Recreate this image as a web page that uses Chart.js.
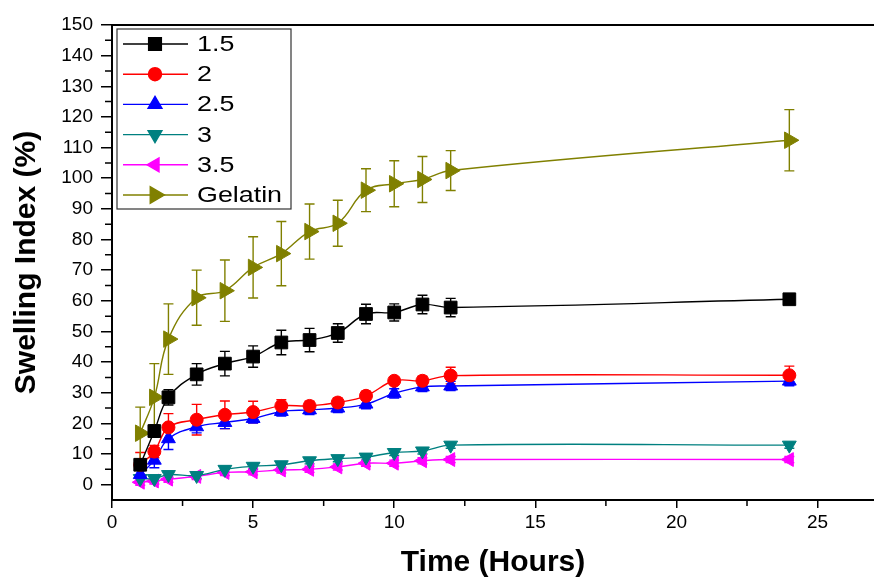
<!DOCTYPE html>
<html>
<head>
<meta charset="utf-8">
<script src="https://cdn.jsdelivr.net/npm/chart.js@4.4.0/dist/chart.umd.min.js"></script>
<style>
html, body { margin: 0; padding: 0; background: #fff; }
</style>
</head>
<body>
<canvas id="myChart" width="874" height="578"></canvas>
<script>
// time points (hours)
var hours = [1, 1.5, 2, 3, 4, 5, 6, 7, 8, 9, 10, 11, 12, 24];
var seriesNames = ['1.5', '2', '2.5', '3', '3.5', 'Gelatin'];

// swelling index (%) and error for each series
var s15 = [6.5, 17.5, 28.5, 36, 39.5, 41.8, 46.4, 47.2, 49.5, 55.7, 56.2, 58.8, 57.8, 60.5];
var e15 = [1.5, 2, 2.5, 3.5, 4, 3.5, 4, 3.8, 3, 3.2, 2.8, 3, 3, 1];
var s2 = [6.5, 10.8, 18.7, 21.2, 22.8, 23.7, 25.7, 25.7, 26.8, 29, 33.9, 33.9, 35.6, 35.7];
var e2 = [4, 2, 4.5, 5, 4.5, 3.5, 2, 1.5, 1.5, 1.5, 1, 1.5, 2.7, 3];
var s25 = [3.3, 8, 15, 18.9, 20.3, 21.6, 23.9, 24.4, 25, 26.3, 29.8, 31.9, 32.2, 33.8];
var e25 = [2, 2.5, 3.5, 2, 2, 1.5, 1.5, 1.5, 1.5, 1.5, 1.5, 1.5, 1.5, 1.5];
var s3 = [2, 2, 3.3, 3, 5, 6, 6.5, 7.8, 8.5, 9, 10.5, 11, 12.9, 12.9];
var e3 = [1, 1, 1, 1, 1, 1, 1, 1, 1, 1, 1, 1, 1, 1];
var s35 = [0.8, 1.2, 1.8, 2.7, 4, 4.2, 4.8, 5, 5.8, 7, 7, 7.8, 8.2, 8.2];
var e35 = [1, 1, 1, 1, 1, 1, 1, 1, 1, 1, 1, 1, 1, 1];
var sGel = [16.8, 28.5, 47.5, 61, 63.3, 70.9, 75.4, 82.6, 85.3, 96.1, 98.2, 99.6, 102.5, 112.4];
var eGel = [8.5, 11, 11.5, 9, 10, 10, 10.5, 9, 7.5, 7, 7.5, 7.5, 6.5, 10];

var allValues = [s15, s2, s25, s3, s35, sGel];
var allErrors = [e15, e2, e25, e3, e35, eGel];

// styles
var colors = ['#000000', '#ff0000', '#0000ff', '#008080', '#ff00ff', '#808000'];
var shapes = ['rect', 'circle', 'triangle', 'triangle', 'triangle', 'triangle'];
var turns = [0, 0, 0, 180, 270, 90];
var sizes = [9, 6.5, 8, 8, 8, 9.5];

var FONT = '"Liberation Sans", Arial, sans-serif';

var datasets = [];
for (var i = 0; i < seriesNames.length; i++) {
    var pts = [];
    for (var j = 0; j < hours.length; j++) {
        pts.push({ x: hours[j], y: allValues[i][j], err: allErrors[i][j] });
    }
    datasets.push({
        label: seriesNames[i],
        data: pts,
        showLine: true,
        borderColor: colors[i],
        backgroundColor: colors[i],
        borderWidth: 1.4,
        tension: 0.4,
        pointStyle: shapes[i],
        rotation: turns[i],
        pointRadius: sizes[i],
        pointHoverRadius: sizes[i],
        pointBorderWidth: 1,
        clip: false
    });
}

// error bars, minor ticks, frame, legend
var extras = {
    id: 'extras',
    beforeDatasetsDraw: function (chart) {
        var ctx = chart.ctx;
        var xs = chart.scales.x, ys = chart.scales.y;
        ctx.save();
        ctx.lineWidth = 1.4;
        chart.data.datasets.forEach(function (ds) {
            ctx.strokeStyle = ds.borderColor;
            ds.data.forEach(function (p) {
                var px = xs.getPixelForValue(p.x);
                var top = ys.getPixelForValue(p.y + p.err);
                var bot = ys.getPixelForValue(p.y - p.err);
                ctx.beginPath();
                ctx.moveTo(px, top); ctx.lineTo(px, bot);
                ctx.moveTo(px - 5, top); ctx.lineTo(px + 5, top);
                ctx.moveTo(px - 5, bot); ctx.lineTo(px + 5, bot);
                ctx.stroke();
            });
        });
        ctx.restore();
    },
    afterDraw: function (chart) {
        var ctx = chart.ctx;
        var a = chart.chartArea;
        var xs = chart.scales.x, ys = chart.scales.y;
        ctx.save();
        ctx.strokeStyle = '#000';
        ctx.lineWidth = 2;
        ctx.beginPath();
        ctx.moveTo(a.left, a.top); ctx.lineTo(a.right, a.top);
        ctx.stroke();
        // minor ticks
        ctx.lineWidth = 1.5;
        ctx.beginPath();
        for (var v = 5; v < 150; v += 10) {
            var py = ys.getPixelForValue(v);
            ctx.moveTo(a.left - 7, py); ctx.lineTo(a.left, py);
        }
        for (var h = 2.5; h < 27; h += 5) {
            var px = xs.getPixelForValue(h);
            ctx.moveTo(px, a.bottom); ctx.lineTo(px, a.bottom + 6);
        }
        ctx.stroke();

        // legend
        var bx = a.left + 5, by = a.top + 4;
        ctx.lineWidth = 1.2;
        ctx.strokeStyle = '#333';
        ctx.fillStyle = '#fff';
        ctx.fillRect(bx, by, 174, 180);
        ctx.strokeRect(bx, by, 174, 180);
        ctx.textBaseline = 'middle';
        chart.data.datasets.forEach(function (ds, k) {
            var ry = by + 15 + k * 30.2;
            ctx.strokeStyle = ds.borderColor;
            ctx.fillStyle = ds.backgroundColor;
            ctx.lineWidth = 1.4;
            ctx.beginPath();
            ctx.moveTo(bx + 6, ry); ctx.lineTo(bx + 71, ry);
            ctx.stroke();
            Chart.helpers.drawPoint(ctx, {
                pointStyle: ds.pointStyle,
                rotation: ds.rotation,
                radius: ds.pointRadius,
                borderWidth: 1
            }, bx + 38, ry);
            ctx.save();
            ctx.translate(bx + 80, ry + 1);
            ctx.scale(1.22, 1);
            ctx.font = '22px ' + FONT;
            ctx.fillStyle = '#000';
            ctx.fillText(ds.label, 0, 0);
            ctx.restore();
        });
        ctx.restore();
    }
};

var ctx = document.getElementById('myChart').getContext('2d');
var myChart = new Chart(ctx, {
    type: 'scatter',
    data: { datasets: datasets },
    options: {
        responsive: false,
        animation: false,
        layout: { autoPadding: false, padding: { top: 25, right: 0, left: 0, bottom: 0 } },
        plugins: {
            legend: { display: false },
            tooltip: { enabled: false }
        },
        scales: {
            x: {
                type: 'linear',
                min: 0,
                max: 27,
                afterFit: function (s) {
                    s.height = 78;
                    s.paddingLeft = 0;
                    s.paddingRight = 0;
                },
                border: { color: '#000', width: 2 },
                grid: { drawOnChartArea: false, drawTicks: true, tickLength: 8, color: '#000', lineWidth: 1.5 },
                ticks: {
                    stepSize: 5,
                    includeBounds: false,
                    color: '#000',
                    padding: 3,
                    maxRotation: 0,
                    font: { family: FONT, size: 19 }
                },
                title: {
                    display: true,
                    text: 'Time (Hours)',
                    color: '#000',
                    padding: { top: 0, bottom: 0 },
                    font: { family: FONT, size: 30, weight: 'bold', lineHeight: 1 }
                }
            },
            y: {
                type: 'linear',
                min: -5,
                max: 150,
                afterFit: function (s) { s.width = 112; },
                border: { color: '#000', width: 2 },
                grid: { drawOnChartArea: false, drawTicks: true, tickLength: 11, color: '#000', lineWidth: 1.5 },
                ticks: {
                    stepSize: 10,
                    includeBounds: false,
                    color: '#000',
                    padding: 8,
                    font: { family: FONT, size: 19 }
                },
                title: {
                    display: true,
                    text: 'Swelling Index (%)',
                    color: '#000',
                    padding: { top: 12, bottom: 0 },
                    font: { family: FONT, size: 30, weight: 'bold', lineHeight: 1 }
                }
            }
        }
    },
    plugins: [extras]
});
</script>
</body>
</html>
